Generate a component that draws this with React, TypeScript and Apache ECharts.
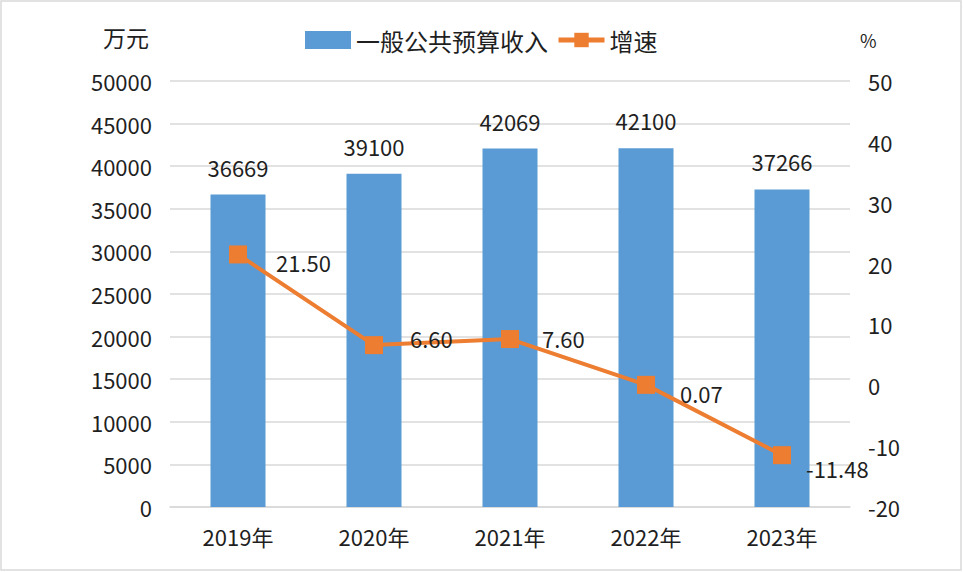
import React, { useEffect, useRef } from "react";
import * as echarts from "echarts";

const categories = ["2019年", "2020年", "2021年", "2022年", "2023年"];
const revenue = [36669, 39100, 42069, 42100, 37266];
const growth = [21.5, 6.6, 7.6, 0.07, -11.48];
const seriesNames = ["一般公共预算收入", "增速"];
const leftUnit = "万元";
const rightUnit = "%";

const growthLabelOffsets = [
  [24, 8],
  [22, -7],
  [18, -1],
  [20, 8],
  [10, 13],
];

const FONT = "'Noto Sans CJK SC', 'Noto Sans', sans-serif";
const TEXT = "#1f1f1f";

export default function App() {
  const ref = useRef<HTMLDivElement>(null);
  useEffect(() => {
    if (!ref.current) return;
    const chart = echarts.init(ref.current, undefined, { renderer: "svg" });
    chart.setOption({
      animation: false,
      backgroundColor: "#ffffff",
      textStyle: { fontFamily: FONT },
      grid: { left: 170, right: 113, top: 81, bottom: 65, containLabel: false },
      legend: {
        left: 300,
        top: 23,
        itemWidth: 46,
        itemHeight: 18,
        itemGap: 8,
        textStyle: { fontSize: 24, color: TEXT, fontFamily: FONT },
        data: [
          { name: seriesNames[0], icon: "rect", itemStyle: { color: "#5b9bd5" } },
          {
            name: seriesNames[1],
            lineStyle: { width: 5, color: "#ed7d31" },
            itemStyle: { color: "#ed7d31" },
          },
        ],
      },
      graphic: [
        {
          type: "rect",
          shape: { x: 1, y: 1, width: 960, height: 569 },
          style: { fill: "none", stroke: "#d9d9d9", lineWidth: 1.5 },
          silent: true,
        },
        {
          type: "text",
          left: 103,
          top: 25,
          style: { text: leftUnit, fontSize: 23, fill: TEXT, fontFamily: FONT },
        },
        {
          type: "text",
          left: 860,
          top: 31,
          style: { text: rightUnit, fontSize: 18, fill: TEXT, fontFamily: FONT },
        },
      ],
      xAxis: {
        type: "category",
        data: categories,
        axisTick: { show: false },
        axisLine: { lineStyle: { color: "#d9d9d9", width: 1.5 } },
        axisLabel: { fontSize: 22, color: TEXT, margin: 18, fontFamily: FONT },
      },
      yAxis: [
        {
          type: "value",
          min: 0,
          max: 50000,
          interval: 5000,
          axisLine: { show: false },
          axisTick: { show: false },
          splitLine: { lineStyle: { color: "#d9d9d9", width: 1.5 } },
          axisLabel: {
            fontSize: 22,
            color: TEXT,
            margin: 18,
            fontFamily: FONT,
            formatter: (v: number) => String(v),
          },
        },
        {
          type: "value",
          min: -20,
          max: 50,
          interval: 10,
          axisLine: { show: false },
          axisTick: { show: false },
          splitLine: { show: false },
          axisLabel: {
            fontSize: 22,
            color: TEXT,
            margin: 18,
            fontFamily: FONT,
            formatter: (v: number) => String(v),
          },
        },
      ],
      series: [
        {
          name: seriesNames[0],
          type: "bar",
          data: revenue,
          barWidth: 55,
          itemStyle: { color: "#5b9bd5" },
          label: {
            show: true,
            position: "top",
            distance: 17,
            fontSize: 22,
            color: TEXT,
            fontFamily: FONT,
          },
        },
        {
          name: seriesNames[1],
          type: "line",
          yAxisIndex: 1,
          z: 5,
          symbol: "rect",
          symbolSize: 18,
          lineStyle: { color: "#ed7d31", width: 4 },
          itemStyle: { color: "#ed7d31" },
          data: growth.map((v, i) => ({
            value: v,
            label: { offset: growthLabelOffsets[i] },
          })),
          label: {
            show: true,
            position: "right",
            distance: 5,
            fontSize: 22,
            color: TEXT,
            fontFamily: FONT,
            formatter: (p: any) => Number(p.value).toFixed(2),
          },
        },
      ],
    });
    return () => chart.dispose();
  }, []);
  return (
    <div style={{ position: "fixed", left: 0, top: 0, width: 963, height: 572, background: "#fff" }}>
      <div ref={ref} style={{ width: 963, height: 572 }} />
    </div>
  );
}
